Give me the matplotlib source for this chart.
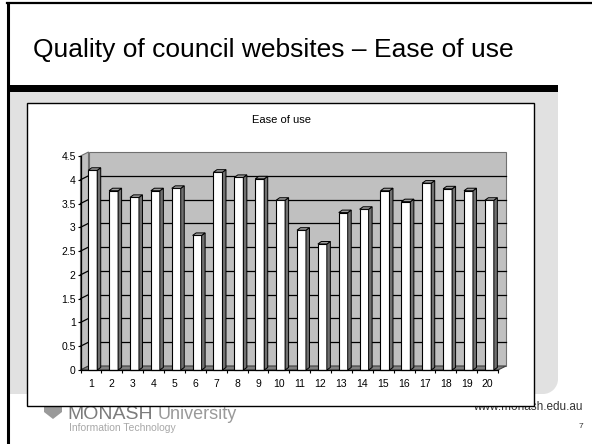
import matplotlib
matplotlib.use('Agg')
import matplotlib.pyplot as plt
import numpy as np
from matplotlib.patches import Rectangle, Polygon, Circle
from matplotlib.lines import Line2D
from matplotlib.transforms import IdentityTransform, ScaledTranslation

plt.rcParams['font.family'] = ['Liberation Sans', 'DejaVu Sans']

# ---------------- data ----------------
categories = [str(i) for i in range(1, 21)]
values = [4.20, 3.77, 3.63, 3.77, 3.82, 2.83, 4.16, 4.05, 4.02, 3.57,
          2.94, 2.65, 3.31, 3.38, 3.77, 3.54, 3.93, 3.81, 3.77, 3.57]
y_ticks = [0, 0.5, 1, 1.5, 2, 2.5, 3, 3.5, 4, 4.5]
y_tick_labels = ['0', '0.5', '1', '1.5', '2', '2.5', '3', '3.5', '4', '4.5']
slide_title = 'Quality of council websites \u2013 Ease of use'
chart_title = 'Ease of use'
footer_url = 'www.monash.edu.au'
page_number = '7'

# ---------------- figure ----------------
W, H = 592, 444
fig = plt.figure(figsize=(W / 100, H / 100), dpi=100)
fig.patch.set_facecolor('white')


def fx(x):
    return x / W


def fy(y):
    return 1 - y / H


def frect(x0, y0, x1, y1, **kw):
    r = Rectangle((fx(x0), fy(y1)), fx(x1) - fx(x0), fy(y0) - fy(y1),
                  transform=fig.transFigure, **kw)
    fig.add_artist(r)
    return r


# light gray band with rounded bottom-right corner
gray_band = '#e1e1e1'
frect(8, 92, 558, 379, facecolor=gray_band, edgecolor='none', zorder=-5)
frect(8, 92, 543, 394, facecolor=gray_band, edgecolor='none', zorder=-5)
fig.add_artist(Circle((543, H - 379), 15, transform=IdentityTransform(),
                      facecolor=gray_band, edgecolor='none', zorder=-5))

# slide border lines and thick bar
fig.add_artist(Line2D([fx(8), fx(8)], [fy(3), fy(H + 2)], color='black', lw=2.2,
                      transform=fig.transFigure, zorder=-3))
fig.add_artist(Line2D([fx(7), fx(W)], [fy(3.5), fy(3.5)], color='black', lw=1.6,
                      transform=fig.transFigure, zorder=-3))
frect(7, 85, 558, 92, facecolor='black', edgecolor='none', zorder=-3)

# slide title
fig.text(fx(33), fy(57), slide_title, fontsize=19, color='black',
         ha='left', va='baseline', zorder=-2)

# footer texts (partly hidden behind chart box)
fig.text(fx(583), fy(410), footer_url, fontsize=8.5, color='#333333',
         ha='right', va='baseline', zorder=-2)
fig.text(fx(583), fy(428), page_number, fontsize=6, color='#333333',
         ha='right', va='baseline', zorder=-2)
fig.text(fx(67), fy(418.5), 'MONASH', fontsize=14, color='#7c7c7c',
         ha='left', va='baseline', zorder=-2)
fig.text(fx(158), fy(418.5), 'University', fontsize=13, color='#9a9a9a',
         ha='left', va='baseline', zorder=-2)
fig.text(fx(69), fy(431), 'Information Technology', fontsize=7.5, color='#a8a8a8',
         ha='left', va='baseline', zorder=-2)
crest = Polygon([(fx(44), fy(404)), (fx(62), fy(404)), (fx(62), fy(412)),
                 (fx(53), fy(419)), (fx(44), fy(412))], closed=True,
                transform=fig.transFigure, facecolor='#9a9a9a', edgecolor='none',
                zorder=-2)
fig.add_artist(crest)

# chart box
frect(27, 103, 534, 406, facecolor='white', edgecolor='black', linewidth=1.0,
      zorder=-1)
fig.text(fx(281), fy(120), chart_title, fontsize=8, ha='center', va='center',
         zorder=6)

# ---------------- 3-D style bar chart ----------------
ax = fig.add_axes([fx(80.5), fy(370), fx(498) - fx(80.5), (370 - 156) / H])
ax.set_zorder(5)
ax.set_facecolor('none')
ax.set_xlim(0.5, 20.5)
ax.set_ylim(0, 4.5)
for s in ('top', 'right'):
    ax.spines[s].set_visible(False)
ax.spines['left'].set_linewidth(0.9)
ax.spines['bottom'].set_linewidth(0.9)
ax.spines['left'].set_zorder(4)
ax.spines['bottom'].set_zorder(4)

x = np.arange(1, len(values) + 1)
ax.set_xticks(x)
ax.set_xticklabels(categories, fontsize=7.5)
ax.set_xticks(np.arange(0.5, len(values) + 1, 1.0), minor=True)
ax.tick_params(axis='x', which='major', length=0, pad=6.5)
ax.tick_params(axis='x', which='minor', length=2.5, width=0.8, direction='out')
ax.set_yticks(y_ticks)
ax.set_yticklabels(y_tick_labels, fontsize=7.5)
ax.tick_params(axis='y', length=2.5, width=0.8, pad=1)

ident = IdentityTransform()
DX, DY = 8.0, 4.0        # wall depth in pixels
wall_col = '#c0c0c0'
floor_col = '#808080'


def px(xd, yd):
    return ax.transData.transform((xd, yd))


x0, x1 = 0.5, 20.5
fl = px(x0, 0)
fr = px(x1, 0)
tl = px(x0, 4.5)

# back wall
bw = Polygon([(fl[0] + DX, fl[1] + DY), (fr[0] + DX, fr[1] + DY),
              (fr[0] + DX, tl[1] + DY), (fl[0] + DX, tl[1] + DY)], closed=True,
             transform=ident, facecolor=wall_col, edgecolor='#707070', lw=0.8,
             zorder=0.5, clip_on=False)
ax.add_patch(bw)
# side wall
sw = Polygon([(fl[0], fl[1]), (fl[0] + DX, fl[1] + DY),
              (tl[0] + DX, tl[1] + DY), (tl[0], tl[1])], closed=True,
             transform=ident, facecolor=wall_col, edgecolor='#707070', lw=0.8,
             zorder=0.5, clip_on=False)
ax.add_patch(sw)
# floor
fp = Polygon([(fl[0], fl[1]), (fr[0], fr[1]), (fr[0] + DX, fr[1] + DY),
              (fl[0] + DX, fl[1] + DY)], closed=True, transform=ident,
             facecolor=floor_col, edgecolor='#404040', lw=0.8, zorder=0.6,
             clip_on=False)
ax.add_patch(fp)

# gridlines on back wall and side wall
for v in y_ticks[1:-1]:
    a = px(x0, v)
    b = px(x1, v)
    ax.add_line(Line2D([a[0] + DX, b[0] + DX], [a[1] + DY, b[1] + DY],
                       transform=ident, color='black', lw=0.9, zorder=0.7,
                       clip_on=False))
    ax.add_line(Line2D([a[0], a[0] + DX], [a[1], a[1] + DY],
                       transform=ident, color='black', lw=0.9, zorder=0.7,
                       clip_on=False))

# bars (front faces)
shift = ScaledTranslation(1.8 / 100, 0, fig.dpi_scale_trans)
bars = ax.bar(x, values, width=0.43, color='white', edgecolor='black',
              linewidth=0.8, zorder=3, transform=ax.transData + shift,
              clip_on=False)

BX, BY = 3.5, 2.5
fig.canvas.draw()
for r in bars:
    verts = r.get_verts()
    xl, xr = verts[:, 0].min(), verts[:, 0].max()
    yb, yt = verts[:, 1].min(), verts[:, 1].max()
    side = Polygon([(xr, yb), (xr + BX, yb + BY), (xr + BX, yt + BY), (xr, yt)],
                   closed=True, transform=ident, facecolor='#707070',
                   edgecolor='black', lw=0.7, zorder=3.1, clip_on=False)
    top = Polygon([(xl, yt), (xr, yt), (xr + BX, yt + BY), (xl + BX, yt + BY)],
                  closed=True, transform=ident, facecolor='#a0a0a0',
                  edgecolor='black', lw=0.7, zorder=3.1, clip_on=False)
    ax.add_patch(side)
    ax.add_patch(top)

fig.savefig('out.png', dpi=100)
